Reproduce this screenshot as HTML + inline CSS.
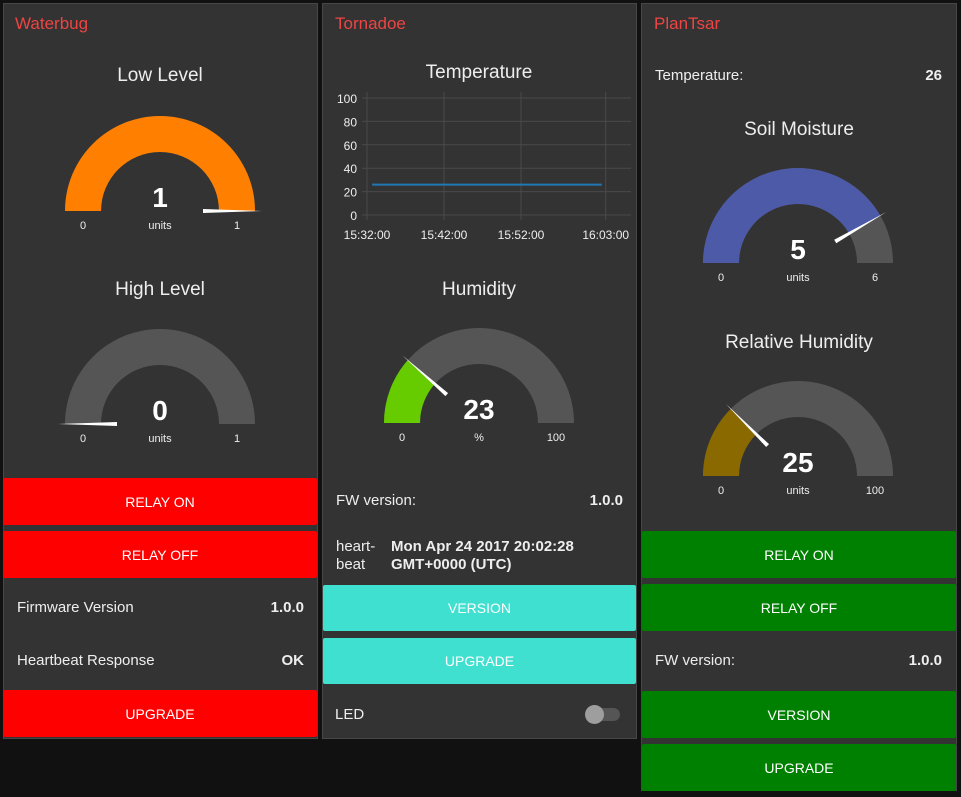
<!DOCTYPE html>
<html><head><meta charset="utf-8">
<style>
body{margin:0;width:961px;height:797px;background:#111;font-family:"Liberation Sans",sans-serif;color:#eee;position:relative;overflow:hidden}
.panel{position:absolute;background:#333;border:1px solid #474747;box-sizing:border-box}
.t{position:absolute;white-space:nowrap}
.hdr{color:#ee4444;font-size:17px}
.title{font-size:19px;text-align:center;width:314px;left:0}
.btn{position:absolute;font-size:14px;color:#fff;display:flex;align-items:center;justify-content:center;border-radius:2px}
.red{background:#ff0000}.cyan{background:#40e0d0}.green{background:#008000}
.lbl{font-size:15px}
.val{font-size:15px;font-weight:bold}
svg{position:absolute;left:0;top:0}
</style></head><body>
<div class="panel" style="left:3px;top:3px;width:315px;height:736px"></div>
<div class="panel" style="left:322px;top:3px;width:315px;height:736px"></div>
<div class="panel" style="left:641px;top:3px;width:316px;height:788px"></div>

<div class="t hdr" style="left:15px;top:14px">Waterbug</div>
<div class="t hdr" style="left:335px;top:14px">Tornadoe</div>
<div class="t hdr" style="left:654px;top:14px">PlanTsar</div>

<div class="t title" style="left:3px;top:65px">Low Level</div>
<div class="t title" style="left:3px;top:279px">High Level</div>
<div class="t title" style="left:322px;top:62px">Temperature</div>
<div class="t title" style="left:322px;top:279px">Humidity</div>
<div class="t title" style="left:641px;top:119px;width:316px">Soil Moisture</div>
<div class="t title" style="left:641px;top:332px;width:316px">Relative Humidity</div>

<div class="btn red" style="left:3px;top:478px;width:314px;height:47px">RELAY ON</div>
<div class="btn red" style="left:3px;top:531px;width:314px;height:47px">RELAY OFF</div>
<div class="t lbl" style="left:17px;top:599px">Firmware Version</div>
<div class="t val" style="right:657px;top:599px">1.0.0</div>
<div class="t lbl" style="left:17px;top:652px">Heartbeat Response</div>
<div class="t val" style="right:657px;top:652px">OK</div>
<div class="btn red" style="left:3px;top:690px;width:314px;height:47px">UPGRADE</div>

<div class="t lbl" style="left:336px;top:492px">FW version:</div>
<div class="t val" style="right:338px;top:492px">1.0.0</div>
<div class="t lbl" style="left:336px;top:538px;line-height:18px">heart-<br>beat</div>
<div class="t val" style="left:391px;top:538px;line-height:18px">Mon Apr 24 2017 20:02:28<br>GMT+0000 (UTC)</div>
<div class="btn cyan" style="left:323px;top:585px;width:313px;height:46px">VERSION</div>
<div class="btn cyan" style="left:323px;top:638px;width:313px;height:46px">UPGRADE</div>
<div class="t lbl" style="left:335px;top:706px">LED</div>
<div style="position:absolute;left:586px;top:708px;width:34px;height:13px;border-radius:7px;background:#555"></div>
<div style="position:absolute;left:585px;top:705px;width:19px;height:19px;border-radius:50%;background:#9e9e9e"></div>

<div class="t lbl" style="left:655px;top:67px">Temperature:</div>
<div class="t val" style="right:19px;top:67px">26</div>
<div class="btn green" style="left:642px;top:531px;width:314px;height:47px">RELAY ON</div>
<div class="btn green" style="left:642px;top:584px;width:314px;height:47px">RELAY OFF</div>
<div class="t lbl" style="left:655px;top:652px">FW version:</div>
<div class="t val" style="right:19px;top:652px">1.0.0</div>
<div class="btn green" style="left:642px;top:691px;width:314px;height:47px">VERSION</div>
<div class="btn green" style="left:642px;top:744px;width:314px;height:47px">UPGRADE</div>

<svg id="s" width="961" height="797"></svg>
<script>
const times=["15:32:40","16:02:30"];
const temps=[26,26];
const yTicks=[0,20,40,60,80,100];
const xTicks=["15:32:00","15:42:00","15:52:00","16:03:00"];
const gaugeNames=["low-level","high-level","humidity","soil-moisture","relative-humidity"];
const gaugeValues=[1,0,23,5,25];
const gaugeMins=[0,0,0,0,0];
const gaugeMaxs=[1,1,100,6,100];
const gaugeUnits=["units","units","%","units","units"];
const gaugeColors=["#ff8000","#555555","#66cc00","#4c5aa8","#8a6a00"];
const gaugeCx=[160,160,479,798,798];
const gaugeCy=[211,424,423,263,476];

const S=document.getElementById('s');const NS='http://www.w3.org/2000/svg';
function mk(t,a,txt){const e=document.createElementNS(NS,t);for(const k in a)e.setAttribute(k,a[k]);if(txt!==undefined)e.textContent=txt;S.appendChild(e);return e;}
// chart
const secs=s=>{const p=s.split(':').map(Number);return p[0]*3600+p[1]*60+p[2];};
const t0=secs("15:32:00");
const xS=s=>367+(secs(s)-t0)*(77/600);
const yS=v=>215-v*1.17;
yTicks.forEach(v=>{const g=mk('line',{x1:362,x2:631,y1:yS(v),y2:yS(v),stroke:'#4a4a4a','stroke-width':1});
const l=mk('text',{x:357,y:yS(v)+5,'text-anchor':'end','font-size':12,fill:'#eee','font-family':'Liberation Sans'},v);});
xTicks.forEach(s=>{const g=mk('line',{x1:xS(s),x2:xS(s),y1:92,y2:220,stroke:'#4a4a4a','stroke-width':1});
const l=mk('text',{x:xS(s),y:239,'text-anchor':'middle','font-size':12,fill:'#eee','font-family':'Liberation Sans'},s);});
const pl=mk('polyline',{points:times.map((t,i)=>xS(t)+','+yS(temps[i])).join(' '),fill:'none',stroke:'#1f77b4','stroke-width':2});


// gauges
const R=95,r=59;
function pt(cx,cy,rad,a){return [cx-rad*Math.cos(a),cy-rad*Math.sin(a)];}
function arc(cx,cy,a0,a1){const p1=pt(cx,cy,R,a0),p2=pt(cx,cy,R,a1),p3=pt(cx,cy,r,a1),p4=pt(cx,cy,r,a0);
return `M${p1} A${R},${R} 0 0 1 ${p2} L${p3} A${r},${r} 0 0 0 ${p4} Z`;}
gaugeNames.forEach((n,i)=>{const cx=gaugeCx[i],cy=gaugeCy[i];
const f=(gaugeValues[i]-gaugeMins[i])/(gaugeMaxs[i]-gaugeMins[i]);const a=f*Math.PI;
const bg=mk('path',{d:arc(cx,cy,0,Math.PI),fill:'#555'});
if(f>0){const fg=mk('path',{d:arc(cx,cy,0,Math.max(a,0.0001)),fill:gaugeColors[i]});}
const s0=pt(cx,cy,43,a),s1=pt(cx,cy,102,a);const nx=Math.sin(a)*2,ny=-Math.cos(a)*2;
const nd=mk('polygon',{points:`${s0[0]+nx},${s0[1]+ny} ${s0[0]-nx},${s0[1]-ny} ${s1[0]},${s1[1]}`,fill:'#fff'});
const v=mk('text',{x:cx,y:cy-4,'text-anchor':'middle','font-size':28,'font-weight':'bold',fill:'#fff','font-family':'Liberation Sans'},gaugeValues[i]);
const u=mk('text',{x:cx,y:cy+18,'text-anchor':'middle','font-size':11,fill:'#eee','font-family':'Liberation Sans'},gaugeUnits[i]);
const mn=mk('text',{x:cx-77,y:cy+18,'text-anchor':'middle','font-size':11,fill:'#eee','font-family':'Liberation Sans'},gaugeMins[i]);
const mx=mk('text',{x:cx+77,y:cy+18,'text-anchor':'middle','font-size':11,fill:'#eee','font-family':'Liberation Sans'},gaugeMaxs[i]);
});
</script>
</body></html>
